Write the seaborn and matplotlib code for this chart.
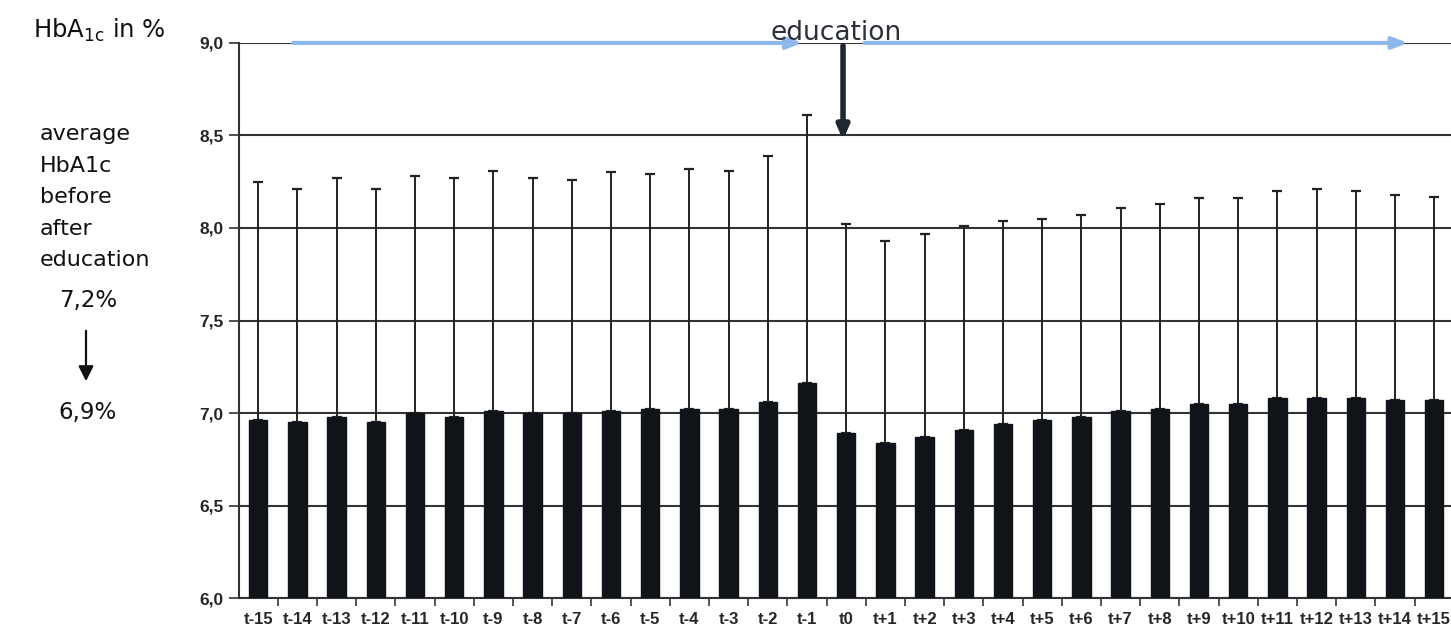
import matplotlib
matplotlib.use("Agg")
import matplotlib.pyplot as plt
import seaborn as sns
import pandas as pd
import numpy as np

# Time points around the education session
periods = ["t-15", "t-14", "t-13", "t-12", "t-11", "t-10", "t-9", "t-8", "t-7", "t-6",
           "t-5", "t-4", "t-3", "t-2", "t-1", "t0", "t+1", "t+2", "t+3", "t+4",
           "t+5", "t+6", "t+7", "t+8", "t+9", "t+10", "t+11", "t+12", "t+13", "t+14", "t+15"]

# Mean HbA1c (%) per time point
hba1c_mean = [6.96, 6.95, 6.98, 6.95, 7.00, 6.98, 7.01, 7.00, 7.00, 7.01,
              7.02, 7.02, 7.02, 7.06, 7.16, 6.89, 6.84, 6.87, 6.91, 6.94,
              6.96, 6.98, 7.01, 7.02, 7.05, 7.05, 7.08, 7.08, 7.08, 7.07, 7.07]

# Upper end of the error bar (mean + SD)
hba1c_upper = [8.25, 8.21, 8.27, 8.21, 8.28, 8.27, 8.31, 8.27, 8.26, 8.30,
               8.29, 8.32, 8.31, 8.39, 8.61, 8.02, 7.93, 7.97, 8.01, 8.04,
               8.05, 8.07, 8.11, 8.13, 8.16, 8.16, 8.20, 8.21, 8.20, 8.18, 8.17]

y_ticks = [6.0, 6.5, 7.0, 7.5, 8.0, 8.5, 9.0]
y_tick_labels = ["6,0", "6,5", "7,0", "7,5", "8,0", "8,5", "9,0"]

df = pd.DataFrame({"period": periods, "hba1c": hba1c_mean})

sns.set_style("white")
plt.rcParams["font.family"] = ["DejaVu Sans"]

fig = plt.figure(figsize=(14.51, 6.41), dpi=100)
ax = fig.add_axes([0.1647, 0.067, 0.8353, 0.866])

sns.barplot(data=df, x="period", y="hba1c", order=periods, color="#0f141a",
            width=0.47, errorbar=None, ax=ax, zorder=3, edgecolor="#0f141a")

x = np.arange(len(periods))
upper_err = np.array(hba1c_upper) - np.array(hba1c_mean)
ax.errorbar(x, hba1c_mean, yerr=[np.zeros_like(upper_err), upper_err], fmt="none",
            ecolor="#222222", elinewidth=1.4, capsize=3.5, capthick=1.6, zorder=2)

tick_font = ["Liberation Sans", "DejaVu Sans"]
ax.set_ylim(6.0, 9.0)
ax.set_xlim(-0.49, 30.43)
ax.set_yticks(y_ticks)
ax.set_yticklabels(y_tick_labels, fontsize=12.5, fontweight="bold", family=tick_font)
ax.set_xticks(x)
ax.set_xticklabels(periods, fontsize=12, fontweight="bold", family=tick_font)
ax.set_xticks(np.arange(len(periods) - 1) + 0.5, minor=True)
ax.tick_params(axis="x", which="major", length=0, pad=10)
ax.tick_params(axis="x", which="minor", length=6, width=1.2, color="#333333",
               direction="out", bottom=True)
ax.tick_params(axis="y", which="major", length=7, width=1.2, color="#333333",
               direction="out", left=True, pad=4)
ax.set_xlabel("")
ax.set_ylabel("")

ax.yaxis.grid(True, color="#333333", linewidth=1.5, zorder=1)
ax.set_axisbelow(True)
for side in ["top", "right"]:
    ax.spines[side].set_visible(False)
for side in ["left", "bottom"]:
    ax.spines[side].set_color("#333333")
    ax.spines[side].set_linewidth(1.5)

# Observation-period arrows along the top line
blue = "#8fb8ea"
ax.annotate("", xy=(13.95, 9.0), xytext=(0.82, 9.0),
            arrowprops=dict(arrowstyle="-|>,head_length=0.9,head_width=0.35",
                            color=blue, lw=3), annotation_clip=False, zorder=5)
ax.annotate("", xy=(29.4, 9.0), xytext=(15.4, 9.0),
            arrowprops=dict(arrowstyle="-|>,head_length=0.9,head_width=0.35",
                            color=blue, lw=3), annotation_clip=False, zorder=5)

# Education marker
ax.annotate("", xy=(14.92, 8.46), xytext=(14.92, 9.0),
            arrowprops=dict(arrowstyle="-|>,head_length=0.8,head_width=0.35",
                            color="#1f2733", lw=4), annotation_clip=False, zorder=6)
fig.text(836 / 1451, 1 - 33 / 641, "education", fontsize=19, color="#2b2f36",
         ha="center", va="center", zorder=7)

# Left-side annotations
fig.text(33 / 1451, 1 - 30 / 641, r"HbA$_{\mathrm{1c}}$ in %", fontsize=17.5,
         color="#111111", ha="left", va="center")
fig.text(40 / 1451, 1 - 124 / 641, "average\nHbA1c\nbefore\nafter\neducation",
         fontsize=16, color="#111111", ha="left", va="top", linespacing=1.72)
fig.text(88 / 1451, 1 - 300 / 641, "7,2%", fontsize=16.5, color="#111111",
         ha="center", va="center")
fig.text(88 / 1451, 1 - 413 / 641, "6,9%", fontsize=16.5, color="#111111",
         ha="center", va="center")
fig.patches.append(matplotlib.patches.FancyArrowPatch(
    (86 / 1451, 1 - 328 / 641), (86 / 1451, 1 - 384 / 641),
    transform=fig.transFigure, arrowstyle="-|>,head_length=6,head_width=3",
    color="#111111", lw=1.6, mutation_scale=1.5))

fig.savefig("out.png", dpi=100, facecolor="white")
